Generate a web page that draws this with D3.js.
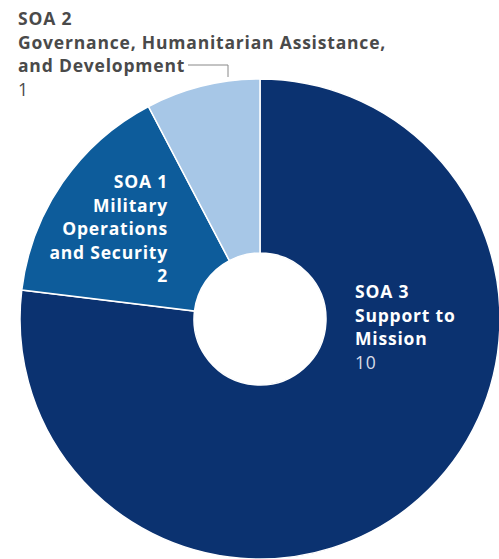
<!DOCTYPE html>
<html>
<head>
<meta charset="utf-8">
<script src="https://cdn.jsdelivr.net/npm/d3@7"></script>
<style>
  body { margin: 0; background: #fff; }
  svg text { font-family: "Open Sans", sans-serif; font-size: 17.5px; letter-spacing: 0.8px; }
</style>
</head>
<body>
<svg id="chart" width="499" height="559"></svg>
<script>
// slices, clockwise from 12 o'clock
const names = ['SOA 3', 'SOA 1', 'SOA 2'];
const titles = [['Support to', 'Mission'], ['Military', 'Operations', 'and Security'], ['Governance, Humanitarian Assistance,', 'and Development']];
const counts = [10, 2, 1];
const colors = ['#0b3270', '#0d5c9b', '#a7c7e7'];

const svg = d3.select('#chart');
const cx = 260, cy = 319, outer = 240, inner = 66;

const pie = d3.pie().sort(null).value(d => d)(counts);
const arc = d3.arc().innerRadius(inner).outerRadius(outer);

const g = svg.append('g').attr('transform', `translate(${cx},${cy})`);
g.selectAll('path')
    .data(pie)
    .join('path')
    .attr('d', arc)
    .attr('fill', (d, i) => colors[i])
    .attr('stroke', '#fff')
    .attr('stroke-width', 1.5);

// label block helper
function label(x, y, anchor, lines, value, fill, valueFill, valueWeight) {
    const t = svg.append('text')
        .attr('x', x).attr('y', y)
        .attr('text-anchor', anchor);
    lines.forEach((l, i) => {
        t.append('tspan')
            .attr('x', x)
            .attr('dy', i === 0 ? 0 : 23.5)
            .attr('font-weight', 700)
            .attr('fill', fill)
            .text(l);
    });
    t.append('tspan')
        .attr('x', x)
        .attr('dy', 23.5)
        .attr('font-weight', valueWeight)
        .attr('fill', valueFill)
        .text(value);
}

label(18, 25, 'start', [names[2]].concat(titles[2]), counts[2], '#4a4a4a', '#4a4a4a', 400);
label(168, 188, 'end', [names[1]].concat(titles[1]), counts[1], '#fff', '#fff', 700);
label(355, 298, 'start', [names[0]].concat(titles[0]), counts[0], '#fff', '#d8dde8', 400);

// leader line from SOA 2 label to its slice
svg.append('path')
    .attr('d', 'M188,65H228V77')
    .attr('fill', 'none')
    .attr('stroke', '#888')
    .attr('stroke-width', 1);
</script>
</body>
</html>
